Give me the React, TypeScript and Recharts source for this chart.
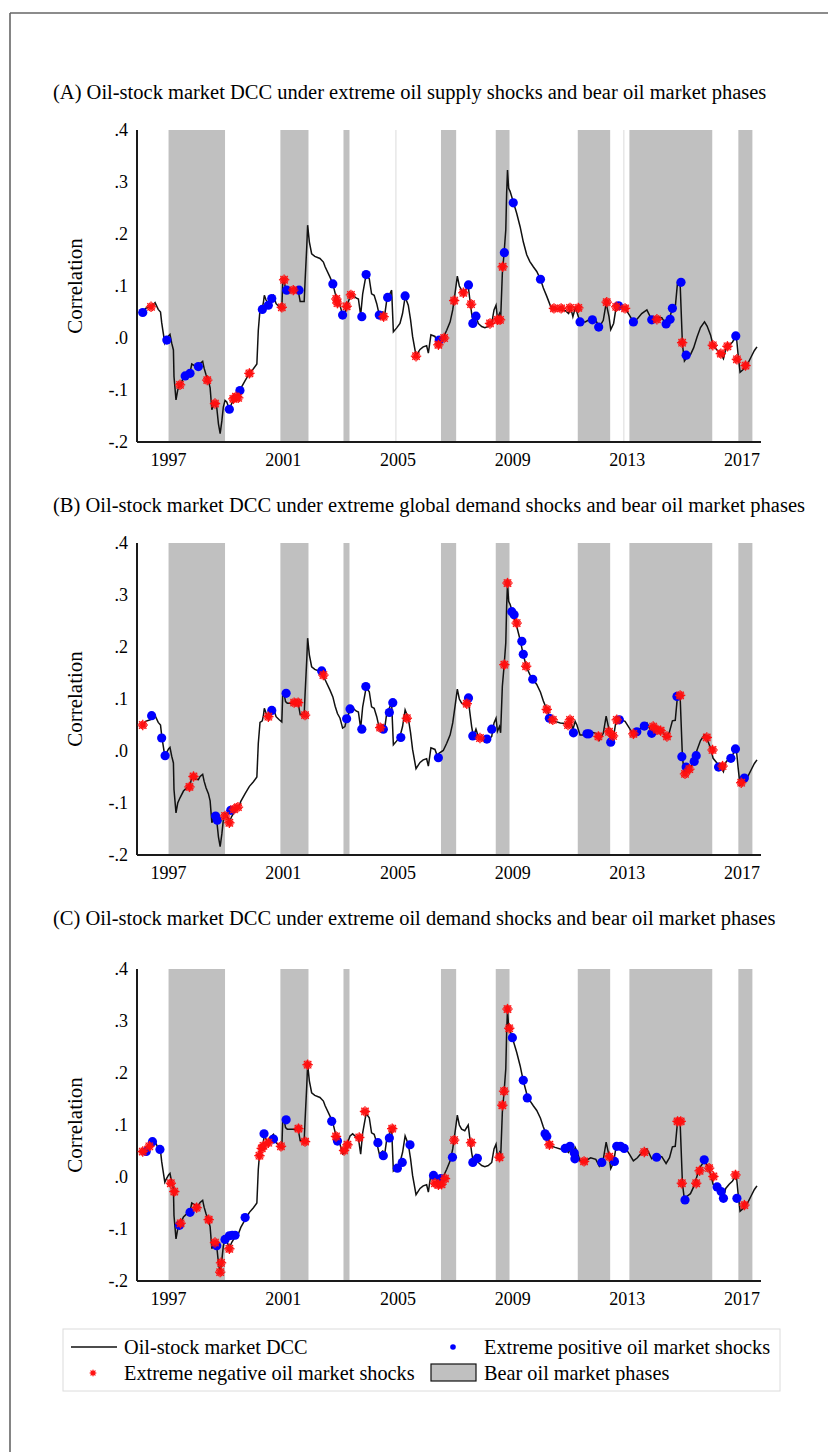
import React from 'react';
import { ComposedChart, Line, Scatter, XAxis, YAxis, ReferenceArea } from 'recharts';

const FONT = "'Liberation Serif', 'DejaVu Serif', serif";

// Oil-stock market dynamic conditional correlation (decimal year, value)
const dccDates = [
  1996.10, 1996.20, 1996.36, 1996.45, 1996.53, 1996.64, 1996.72, 1996.76, 1996.80, 1996.87,
  1996.92, 1997.00, 1997.05, 1997.11, 1997.17, 1997.19, 1997.26, 1997.32, 1997.40, 1997.52,
  1997.63, 1997.75, 1997.81, 1997.93, 1998.04, 1998.10, 1998.19, 1998.24, 1998.31, 1998.39,
  1998.45, 1998.51, 1998.59, 1998.68, 1998.74, 1998.80, 1998.86, 1998.91, 1998.97, 1999.03,
  1999.12, 1999.20, 1999.32, 1999.43, 1999.52, 1999.67, 1999.82, 1999.96, 2000.08, 2000.13,
  2000.19, 2000.27, 2000.31, 2000.34, 2000.40, 2000.48, 2000.54, 2000.62, 2000.66, 2000.75,
  2000.86, 2000.95, 2000.98, 2001.03, 2001.08, 2001.14, 2001.35, 2001.53, 2001.59, 2001.73,
  2001.76, 2001.82, 2001.85, 2001.91, 2001.99, 2002.10, 2002.28, 2002.40, 2002.46, 2002.63,
  2002.73, 2002.81, 2002.89, 2002.98, 2003.07, 2003.15, 2003.21, 2003.33, 2003.42, 2003.54,
  2003.62, 2003.70, 2003.77, 2003.89, 2004.00, 2004.08, 2004.17, 2004.26, 2004.35, 2004.47,
  2004.53, 2004.61, 2004.67, 2004.78, 2004.84, 2004.95, 2005.07, 2005.16, 2005.25, 2005.36,
  2005.44, 2005.51, 2005.63, 2005.77, 2005.88, 2006.00, 2006.06, 2006.15, 2006.29, 2006.37,
  2006.44, 2006.58, 2006.70, 2006.82, 2006.91, 2006.99, 2007.07, 2007.14, 2007.22, 2007.33,
  2007.45, 2007.51, 2007.57, 2007.63, 2007.72, 2007.80, 2007.92, 2008.03, 2008.15, 2008.27,
  2008.35, 2008.42, 2008.47, 2008.54, 2008.58, 2008.64, 2008.70, 2008.76, 2008.79, 2008.82,
  2008.86, 2008.91, 2009.02, 2009.14, 2009.26, 2009.37, 2009.49, 2009.60, 2009.72, 2009.84,
  2009.97, 2010.07, 2010.19, 2010.33, 2010.48, 2010.66, 2010.83, 2010.95, 2011.03, 2011.10,
  2011.18, 2011.24, 2011.35, 2011.53, 2011.72, 2011.90, 2012.02, 2012.16, 2012.26, 2012.36,
  2012.42, 2012.52, 2012.61, 2012.75, 2012.92, 2013.07, 2013.21, 2013.35, 2013.50, 2013.68,
  2013.85, 2014.03, 2014.20, 2014.35, 2014.47, 2014.57, 2014.67, 2014.75, 2014.84, 2014.92,
  2014.99, 2015.08, 2015.20, 2015.31, 2015.43, 2015.55, 2015.69, 2015.78, 2015.90, 2015.99,
  2016.11, 2016.25, 2016.35, 2016.43, 2016.55, 2016.66, 2016.80, 2016.86, 2016.93, 2017.05,
  2017.19, 2017.31, 2017.43, 2017.52,
];
const dccValues = [
  0.049, 0.057, 0.060, 0.063, 0.068, 0.055, 0.050, 0.030, 0.015, -0.010,
  -0.004, 0.004, 0.007, -0.010, -0.023, -0.074, -0.119, -0.100, -0.090, -0.077,
  -0.071, -0.066, -0.050, -0.054, -0.055, -0.049, -0.045, -0.058, -0.071, -0.082,
  -0.096, -0.138, -0.126, -0.133, -0.165, -0.184, -0.159, -0.133, -0.120, -0.123,
  -0.137, -0.126, -0.115, -0.110, -0.097, -0.082, -0.068, -0.059, -0.050, 0.015,
  0.055, 0.058, 0.069, 0.082, 0.073, 0.066, 0.077, 0.080, 0.082, 0.066,
  0.060, 0.056, 0.105, 0.110, 0.095, 0.092, 0.092, 0.089, 0.070, 0.070,
  0.108, 0.176, 0.217, 0.185, 0.162, 0.157, 0.153, 0.146, 0.137, 0.117,
  0.104, 0.086, 0.072, 0.063, 0.044, 0.047, 0.061, 0.079, 0.083, 0.077,
  0.075, 0.044, 0.085, 0.122, 0.114, 0.085, 0.082, 0.066, 0.044, 0.050,
  0.041, 0.073, 0.079, 0.092, 0.012, 0.019, 0.028, 0.047, 0.079, 0.063,
  0.035, 0.003, -0.034, -0.022, -0.017, -0.015, -0.029, 0.006, 0.003, -0.009,
  -0.004, 0.001, 0.015, 0.031, 0.054, 0.086, 0.119, 0.100, 0.092, 0.089,
  0.100, 0.073, 0.047, 0.028, 0.042, 0.028, 0.022, 0.020, 0.022, 0.028,
  0.054, 0.063, 0.038, 0.047, 0.035, 0.124, 0.163, 0.208, 0.278, 0.323,
  0.288, 0.282, 0.262, 0.240, 0.214, 0.185, 0.160, 0.147, 0.137, 0.128,
  0.113, 0.096, 0.080, 0.060, 0.057, 0.054, 0.053, 0.047, 0.057, 0.041,
  0.057, 0.050, 0.031, 0.031, 0.037, 0.034, 0.021, 0.034, 0.067, 0.041,
  0.016, 0.028, 0.060, 0.060, 0.057, 0.044, 0.031, 0.037, 0.047, 0.054,
  0.035, 0.040, 0.039, 0.026, 0.037, 0.058, 0.059, 0.107, 0.105, -0.012,
  -0.044, -0.037, -0.032, -0.019, 0.002, 0.020, 0.031, 0.023, 0.006, -0.014,
  -0.022, -0.030, -0.040, -0.022, -0.014, -0.008, 0.004, -0.031, -0.066, -0.060,
  -0.050, -0.037, -0.024, -0.017,
];

// Bear oil market phases (start, end in decimal years)
const bearStarts = [1997.0, 2000.9, 2003.1, 2006.5, 2008.41, 2011.27, 2013.07, 2016.87];
const bearEnds = [1998.97, 2001.88, 2003.31, 2007.03, 2008.89, 2012.4, 2015.96, 2017.36];
// One-week bear spells that only show up in the supply-shock panel
const shortBearStarts = [2004.92, 2012.87];
const shortBearEnds = [2004.94, 2012.89];

const yearTicks = [1997, 2001, 2005, 2009, 2013, 2017];
const corrTicks = [-0.2, -0.1, 0, 0.1, 0.2, 0.3, 0.4];
const corrTickLabels = ['-.2', '-.1', '.0', '.1', '.2', '.3', '.4'];

// (A) extreme oil supply shocks
const supplyPosDates = [
  1996.10, 1996.94, 1997.58, 1997.75, 1998.04, 1999.12, 1999.49, 2000.27, 2000.48, 2000.60,
  2001.12, 2001.55, 2002.73, 2003.07, 2003.74, 2003.89, 2004.35, 2004.64, 2005.25, 2006.44,
  2007.46, 2007.61, 2007.72, 2008.71, 2009.02, 2009.97, 2011.35, 2011.78, 2012.00, 2012.69,
  2013.21, 2013.85, 2014.35, 2014.49, 2014.57, 2014.87, 2015.05, 2016.78,
];
const supplyPosValues = [
  0.049, -0.004, -0.073, -0.068, -0.055, -0.137, -0.101, 0.055, 0.063, 0.076,
  0.092, 0.092, 0.104, 0.044, 0.041, 0.122, 0.044, 0.078, 0.081, -0.004,
  0.102, 0.028, 0.042, 0.164, 0.260, 0.113, 0.031, 0.035, 0.021, 0.062,
  0.031, 0.035, 0.027, 0.036, 0.057, 0.107, -0.033, 0.004,
];
const supplyNegDates = [
  1996.39, 1997.40, 1998.35, 1998.62, 1999.26, 1999.35, 1999.43, 1999.82, 2000.95, 2001.03,
  2001.35, 2002.85, 2002.89, 2003.21, 2003.36, 2004.50, 2005.63, 2006.41, 2006.61, 2006.96,
  2007.28, 2007.55, 2008.21, 2008.47, 2008.56, 2008.65, 2010.44, 2010.69, 2011.00, 2011.29,
  2012.28, 2012.61, 2012.92, 2014.03, 2014.91, 2015.98, 2016.26, 2016.49, 2016.82, 2017.12,
];
const supplyNegValues = [
  0.060, -0.090, -0.081, -0.126, -0.117, -0.113, -0.115, -0.068, 0.059, 0.112,
  0.092, 0.075, 0.067, 0.061, 0.083, 0.041, -0.035, -0.013, 0.000, 0.072,
  0.087, 0.065, 0.028, 0.035, 0.035, 0.137, 0.057, 0.057, 0.058, 0.058,
  0.069, 0.060, 0.057, 0.036, -0.009, -0.014, -0.030, -0.016, -0.041, -0.053,
];

// (B) extreme global demand shocks
const globalPosDates = [
  1996.41, 1996.76, 1996.88, 1998.64, 1998.70, 1999.17, 2000.60, 2001.10, 2002.34, 2003.21,
  2003.33, 2003.74, 2003.88, 2004.49, 2004.70, 2004.82, 2005.10, 2006.41, 2007.46, 2007.61,
  2008.10, 2008.27, 2008.97, 2009.05, 2009.32, 2009.37, 2009.70, 2010.28, 2011.12, 2011.59,
  2011.66, 2012.42, 2012.72, 2013.33, 2013.59, 2013.85, 2014.73, 2014.90, 2015.05, 2015.33,
  2015.40, 2016.18, 2016.61, 2016.77, 2017.08,
];
const globalPosValues = [
  0.068, 0.025, -0.009, -0.125, -0.133, -0.114, 0.078, 0.111, 0.154, 0.062,
  0.081, 0.042, 0.124, 0.042, 0.074, 0.093, 0.026, -0.013, 0.102, 0.029,
  0.023, 0.042, 0.268, 0.262, 0.211, 0.186, 0.138, 0.063, 0.035, 0.033,
  0.033, 0.017, 0.060, 0.037, 0.048, 0.034, 0.105, -0.011, -0.031, -0.020,
  -0.009, -0.031, -0.014, 0.004, -0.052,
];
const globalNegDates = [
  1996.10, 1997.73, 1997.87, 1998.97, 1999.12, 1999.28, 1999.42, 2000.48, 2001.38, 2001.52,
  2001.76, 2002.40, 2004.38, 2005.31, 2007.40, 2007.86, 2008.71, 2008.82, 2009.14, 2009.47,
  2010.19, 2010.40, 2010.93, 2011.00, 2011.99, 2012.36, 2012.50, 2012.63, 2013.21, 2013.90,
  2014.03, 2014.16, 2014.38, 2014.84, 2015.01, 2015.16, 2015.77, 2015.97, 2016.32, 2016.97,
];
const globalNegValues = [
  0.050, -0.069, -0.049, -0.125, -0.138, -0.112, -0.108, 0.066, 0.093, 0.093,
  0.069, 0.146, 0.045, 0.063, 0.091, 0.025, 0.166, 0.323, 0.246, 0.163,
  0.080, 0.060, 0.050, 0.060, 0.028, 0.037, 0.029, 0.060, 0.033, 0.047,
  0.041, 0.039, 0.028, 0.107, -0.044, -0.035, 0.026, 0.002, -0.029, -0.061,
];

// (C) extreme oil demand shocks
const oilPosDates = [
  1996.22, 1996.44, 1996.70, 1997.38, 1997.75, 1998.68, 1998.97, 1999.12, 1999.22, 1999.32,
  1999.67, 2000.33, 2000.66, 2001.10, 2002.69, 2002.89, 2004.30, 2004.49, 2004.70, 2004.98,
  2005.15, 2005.42, 2006.24, 2006.49, 2006.90, 2007.61, 2007.77, 2008.99, 2009.37, 2009.51,
  2010.13, 2010.19, 2010.83, 2011.00, 2011.15, 2011.17, 2012.11, 2012.55, 2012.63, 2012.76,
  2012.89, 2014.02, 2015.01, 2015.68, 2016.13, 2016.27, 2016.35, 2016.82,
];
const oilPosValues = [
  0.049, 0.068, 0.053, -0.093, -0.068, -0.132, -0.120, -0.113, -0.112, -0.112,
  -0.078, 0.083, 0.073, 0.110, 0.107, 0.069, 0.066, 0.041, 0.075, 0.017,
  0.028, 0.062, 0.003, -0.003, 0.038, 0.028, 0.036, 0.268, 0.186, 0.152,
  0.083, 0.078, 0.055, 0.059, 0.046, 0.035, 0.028, 0.030, 0.059, 0.059,
  0.055, 0.038, -0.044, 0.033, -0.019, -0.028, -0.041, -0.041,
];
const oilNegDates = [
  1996.10, 1996.33, 1997.08, 1997.20, 1997.42, 1997.98, 1998.40, 1998.62, 1998.80, 1998.83,
  1999.12, 2000.17, 2000.25, 2000.31, 2000.48, 2000.92, 2001.53, 2001.76, 2001.85, 2002.84,
  2003.12, 2003.24, 2003.65, 2003.85, 2004.80, 2006.29, 2006.41, 2006.52, 2006.64, 2006.96,
  2007.55, 2008.54, 2008.64, 2008.70, 2008.82, 2008.88, 2010.28, 2011.49, 2012.37, 2013.59,
  2014.75, 2014.86, 2014.90, 2015.40, 2015.52, 2015.85, 2016.00, 2016.77, 2017.08,
];
const oilNegValues = [
  0.049, 0.059, -0.012, -0.028, -0.089, -0.059, -0.082, -0.126, -0.183, -0.165,
  -0.138, 0.041, 0.055, 0.060, 0.066, 0.059, 0.093, 0.068, 0.216, 0.078,
  0.051, 0.062, 0.076, 0.126, 0.093, -0.012, -0.015, -0.014, -0.003, 0.071,
  0.066, 0.038, 0.138, 0.165, 0.323, 0.286, 0.062, 0.030, 0.039, 0.048,
  0.107, 0.107, -0.012, -0.012, 0.012, 0.017, 0.001, 0.004, -0.054,
];

type Pt = { t: number; v: number };
const zip = (ts: number[], vs: number[]): Pt[] => ts.map((t, i) => ({ t, v: vs[i] }));
const pairs = (a: number[], b: number[]) => a.map((s, i) => [s, b[i]] as [number, number]);

const dccData = zip(dccDates, dccValues);
const bearPhases = pairs(bearStarts, bearEnds);
const shortBearPhases = pairs(shortBearStarts, shortBearEnds);

const fmtCorr = (v: number) => {
  const i = corrTicks.findIndex((t) => Math.abs(t - v) < 1e-9);
  return i >= 0 ? corrTickLabels[i] : '';
};

const BLUE = '#0000ff';
const RED = '#ff1010';
const INK = '#000';

const BlueDot = (props: any) => {
  const { cx, cy } = props;
  if (cx == null || cy == null) return <g />;
  return <circle cx={cx} cy={cy} r={4.6} fill={BLUE} />;
};

const Star = ({ cx, cy, r, w }: { cx: number; cy: number; r: number; w: number }) => {
  const angles = [0, 22.5, 45, 67.5, 90, 112.5, 135, 157.5];
  return (
    <g>
      {angles.map((a) => {
        const rad = (a * Math.PI) / 180;
        const rr = a % 45 === 0 ? r : r * 0.85;
        const dx = Math.cos(rad) * rr;
        const dy = Math.sin(rad) * rr;
        return (
          <line key={a} x1={cx - dx} y1={cy - dy} x2={cx + dx} y2={cy + dy} stroke={RED} strokeWidth={w} />
        );
      })}
      <circle cx={cx} cy={cy} r={r * 0.45} fill={RED} />
    </g>
  );
};

const RedStar = (props: any) => {
  const { cx, cy } = props;
  if (cx == null || cy == null) return <g />;
  return <Star cx={cx} cy={cy} r={5.2} w={1.3} />;
};

const axisStyle = { stroke: '#1a1a1a', strokeWidth: 2 };
const tickStyle = { fontSize: 18, fill: INK, fontFamily: FONT };

type PanelProps = {
  plotTop: number;
  pos: Pt[];
  neg: Pt[];
  phases: [number, number][];
};

const CHART_W = 828;
const CHART_H = 400;
const PLOT_LEFT = 137;
const PLOT_RIGHT = 761;
const PLOT_H = 312;
const TOP_PAD = 30;

function Panel({ plotTop, pos, neg, phases }: PanelProps) {
  return (
    <div style={{ position: 'absolute', left: 0, top: plotTop - TOP_PAD }}>
      <ComposedChart
        width={CHART_W}
        height={CHART_H}
        margin={{ top: TOP_PAD, right: CHART_W - PLOT_RIGHT, bottom: CHART_H - TOP_PAD - PLOT_H - 30, left: 0 }}
      >
        <XAxis
          type="number"
          dataKey="t"
          domain={[1995.9, 2017.66]}
          ticks={yearTicks}
          interval={0}
          allowDataOverflow
          tickLine={false}
          axisLine={axisStyle}
          tick={tickStyle}
          tickMargin={5}
          height={30}
        />
        <YAxis
          type="number"
          domain={[-0.2, 0.4]}
          ticks={corrTicks}
          interval={0}
          allowDataOverflow
          width={PLOT_LEFT}
          tickLine={false}
          axisLine={axisStyle}
          tick={tickStyle}
          tickMargin={3}
          tickFormatter={fmtCorr}
        />
        {phases.map(([a, b], i) => (
          <ReferenceArea
            key={`bear-${i}`}
            x1={a}
            x2={b}
            y1={-0.2}
            y2={0.4}
            fill="#c0c0c0"
            fillOpacity={1}
            stroke="none"
            ifOverflow="hidden"
          />
        ))}
        <Line
          data={dccData}
          dataKey="v"
          type="linear"
          stroke="#111"
          strokeWidth={1.5}
          dot={false}
          activeDot={false}
          isAnimationActive={false}
        />
        <Scatter data={pos} dataKey="v" shape={BlueDot} isAnimationActive={false} />
        <Scatter data={neg} dataKey="v" shape={RedStar} isAnimationActive={false} />
      </ComposedChart>
    </div>
  );
}

const panels = [
  {
    key: 'A',
    title: '(A) Oil-stock market DCC under extreme oil supply shocks and bear oil market phases',
    titleBaseline: 99,
    plotTop: 130,
    pos: zip(supplyPosDates, supplyPosValues),
    neg: zip(supplyNegDates, supplyNegValues),
    phases: [...bearPhases, ...shortBearPhases],
  },
  {
    key: 'B',
    title: '(B) Oil-stock market DCC under extreme global demand shocks and bear oil market phases',
    titleBaseline: 512,
    plotTop: 543,
    pos: zip(globalPosDates, globalPosValues),
    neg: zip(globalNegDates, globalNegValues),
    phases: bearPhases,
  },
  {
    key: 'C',
    title: '(C) Oil-stock market DCC under extreme oil demand shocks and bear oil market phases',
    titleBaseline: 925,
    plotTop: 969,
    pos: zip(oilPosDates, oilPosValues),
    neg: zip(oilNegDates, oilNegValues),
    phases: bearPhases,
  },
];

const textStyle = { fontFamily: FONT, fill: INK };

export default function App() {
  return (
    <div
      style={{
        position: 'fixed',
        left: 0,
        top: 0,
        width: 828,
        height: 1452,
        overflow: 'hidden',
        background: '#fff',
      }}
    >
      <svg width={828} height={1452} style={{ position: 'absolute', left: 0, top: 0 }}>
        {/* figure frame */}
        <line x1={10} y1={13} x2={828} y2={13} stroke="#666" strokeWidth={1.6} />
        <line x1={10} y1={13} x2={10} y2={1452} stroke="#666" strokeWidth={1.6} />
        {panels.map((p) => (
          <g key={p.key}>
            <text x={53} y={p.titleBaseline} fontSize={20.5} {...textStyle}>
              {p.title}
            </text>
            <text
              x={75}
              y={p.plotTop + PLOT_H / 2}
              fontSize={21}
              textAnchor="middle"
              dominantBaseline="central"
              transform={`rotate(-90 75 ${p.plotTop + PLOT_H / 2})`}
              {...textStyle}
            >
              Correlation
            </text>
          </g>
        ))}
      </svg>
      {panels.map((p) => (
        <Panel key={p.key} plotTop={p.plotTop} pos={p.pos} neg={p.neg} phases={p.phases} />
      ))}
      <svg width={828} height={1452} style={{ position: 'absolute', left: 0, top: 0, pointerEvents: 'none' }}>
        {/* legend */}
        <rect x={63} y={1329} width={717} height={62} fill="#fff" stroke="#dcdcdc" strokeWidth={1} />
        <line x1={71} y1={1347} x2={117} y2={1347} stroke="#111" strokeWidth={1.6} />
        <text x={124} y={1347} fontSize={20.3} dominantBaseline="central" {...textStyle}>
          Oil-stock market DCC
        </text>
        <circle cx={453} cy={1347} r={2.8} fill={BLUE} />
        <text x={484} y={1347} fontSize={20.3} dominantBaseline="central" {...textStyle}>
          Extreme positive oil market shocks
        </text>
        <Star cx={93} cy={1373} r={3.4} w={1} />
        <text x={124} y={1373} fontSize={20.3} dominantBaseline="central" {...textStyle}>
          Extreme negative oil market shocks
        </text>
        <rect x={431} y={1364} width={45} height={17} fill="#c0c0c0" stroke="#111" strokeWidth={1.2} />
        <text x={484} y={1373} fontSize={20.3} dominantBaseline="central" {...textStyle}>
          Bear oil market phases
        </text>
      </svg>
    </div>
  );
}
